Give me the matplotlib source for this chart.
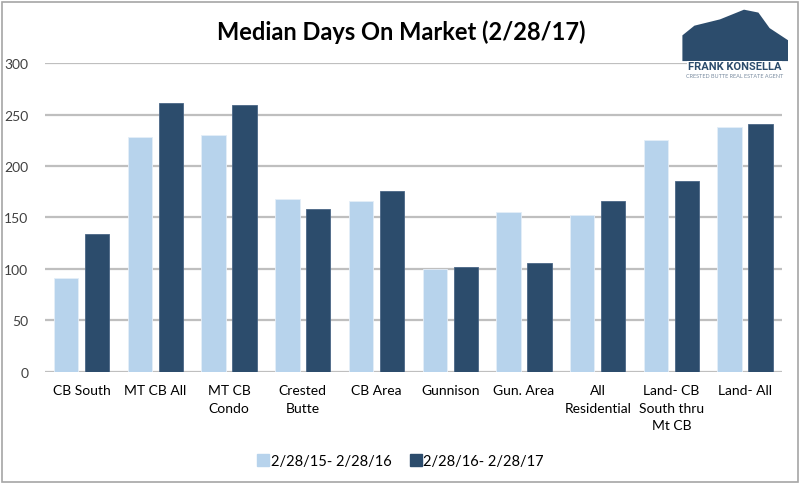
import matplotlib
matplotlib.use("Agg")
import matplotlib.pyplot as plt
import numpy as np
from matplotlib.patches import Rectangle, Polygon
from matplotlib.lines import Line2D

categories = ["CB South", "MT CB All", "MT CB\nCondo", "Crested\nButte", "CB Area",
              "Gunnison", "Gun. Area", "All\nResidential", "Land- CB\nSouth thru\nMt CB",
              "Land- All"]
period_1 = [91, 228, 230, 168, 166, 100, 155, 152, 225, 238]
period_2 = [134, 261, 259, 158, 176, 102, 106, 166, 185, 241]
series_labels = ["2/28/15- 2/28/16", "2/28/16- 2/28/17"]
title = "Median Days On Market (2/28/17)"

LIGHT = "#B7D3EC"
DARK = "#2C4C6C"
GRID = "#BFBFBF"
TEXT = "#404040"

plt.rcParams["font.family"] = ["Lato", "DejaVu Sans"]

fig = plt.figure(figsize=(8, 4.85), dpi=100)
ax = fig.add_axes([0.056, 0.231, 0.9215, 0.637])

x = np.arange(len(categories))
w = 0.33
off = 0.21
ax.bar(x - off, period_1, w, color=LIGHT, edgecolor="#E4EEF8", linewidth=0.6, zorder=3)
ax.bar(x + off, period_2, w, color=DARK, edgecolor="#4A6686", linewidth=0.6, zorder=3)

ax.set_xlim(-0.5, len(categories) - 0.5)
ax.set_ylim(0, 300)
ax.set_yticks(np.arange(0, 301, 50))
ax.yaxis.grid(True, color=GRID, linewidth=1.6, zorder=0)
for s in ax.spines.values():
    s.set_visible(False)
ax.tick_params(axis="both", length=0, colors=TEXT, labelsize=10)
ax.tick_params(axis="y", pad=12)
ax.tick_params(axis="x", pad=9)
ax.set_xticks(x)
ax.set_xticklabels(categories, linespacing=1.55, color="black")

fig.text(0.502, 0.934, title, ha="center", va="center", fontsize=17, fontweight="bold")

handles = [Line2D([], [], marker="s", linestyle="none", markersize=9,
                  markerfacecolor=c, markeredgecolor=c) for c in (LIGHT, DARK)]
fig.legend(handles, series_labels, loc="center", bbox_to_anchor=(0.5, 0.047),
           ncol=2, frameon=False, fontsize=10.5, handletextpad=0.0,
           columnspacing=1.2, handlelength=1.0)

# outer frame
fig.patches.append(Rectangle((0.003, 0.004), 0.994, 0.99, transform=fig.transFigure,
                             fill=False, edgecolor="#A6A6A6", linewidth=1.2))

# logo (approximate)
mountain = Polygon([(0.853, 0.872), (0.853, 0.925), (0.868, 0.945), (0.9, 0.958),
                    (0.93, 0.978), (0.948, 0.972), (0.962, 0.94), (0.985, 0.915),
                    (0.985, 0.872)], closed=True, transform=fig.transFigure,
                   facecolor=DARK, edgecolor="none")
fig.patches.append(mountain)
fig.text(0.918, 0.861, "FRANK KONSELLA", ha="center", va="center", fontsize=8,
         fontweight="bold", color=DARK, family=["Roboto", "DejaVu Sans"],
         bbox=dict(facecolor="white", edgecolor="none", pad=0.5))
fig.text(0.918, 0.842, "CRESTED BUTTE REAL ESTATE AGENT", ha="center", va="center",
         fontsize=4, color="#7A8CA0")

fig.savefig("out.png", dpi=100)
